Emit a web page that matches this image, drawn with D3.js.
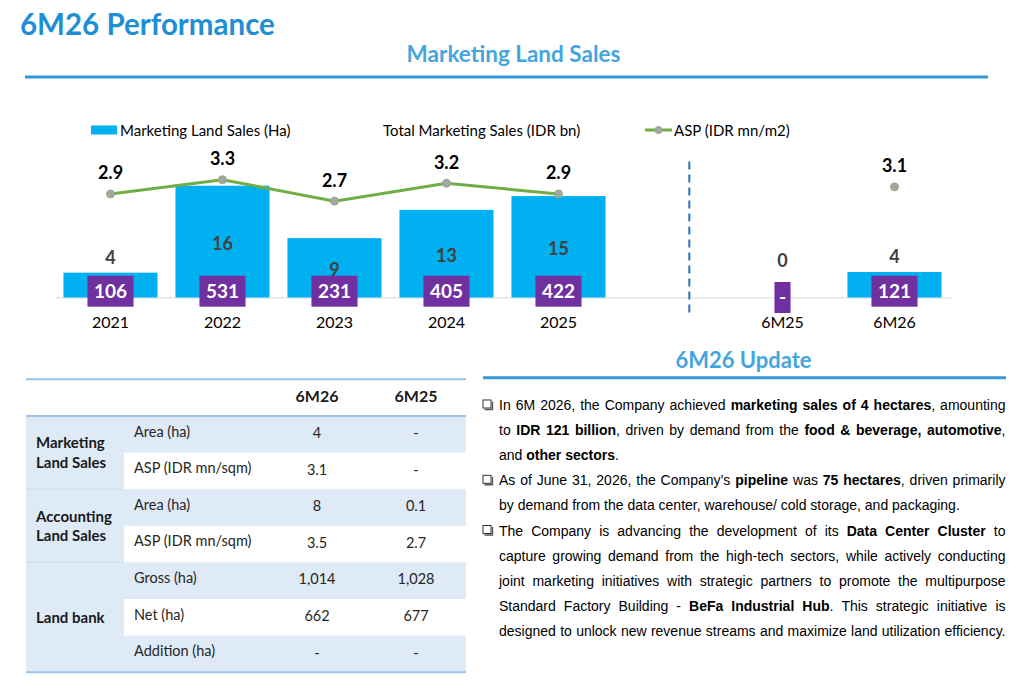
<!DOCTYPE html>
<html><head><meta charset="utf-8">
<script src="https://cdn.jsdelivr.net/npm/d3@7"></script>
<style>body{margin:0;background:#fff}svg{display:block}</style>
</head><body>
<svg id="c" width="1029" height="683"></svg>
<script>
// ---------- DATA ----------
const categories = ["2021","2022","2023","2024","2025","","6M25","6M26"];
const landSalesHa = [3.6,16.2,8.6,12.7,14.7,null,0,3.7];
const totalSalesIDRbn = [106,531,231,405,422,null,0,121];
const aspIDRmnM2 = [2.9,3.3,2.7,3.2,2.9,null,null,3.1];
const legendLabels = ["Marketing Land Sales (Ha)","Total Marketing Sales (IDR bn)","ASP (IDR mn/m2)"];
const tableColumns = ["6M26","6M25"];
const tableGroupNames = [["Marketing","Land Sales"],["Accounting","Land Sales"],["Land bank"]];
const tableRowLabels = [["Area (ha)","ASP (IDR mn/sqm)"],["Area (ha)","ASP (IDR mn/sqm)"],["Gross (ha)","Net (ha)","Addition (ha)"]];
const tableValues6M26 = [["4","3.1"],["8","3.5"],["1,014","662","-"]];
const tableValues6M25 = [["-","-"],["0.1","2.7"],["1,028","677","-"]];
const updateLines = [
  {bullet:true, justify:true, runs:[["In 6M 2026, the Company achieved ",0],["marketing sales of 4 hectares",1],[", amounting",0]]},
  {bullet:false, justify:true, runs:[["to ",0],["IDR 121 billion",1],[", driven by demand from the ",0],["food & beverage, automotive",1],[",",0]]},
  {bullet:false, justify:false, runs:[["and ",0],["other sectors",1],[".",0]]},
  {bullet:true, justify:true, runs:[["As of June 31, 2026, the Company\u2019s ",0],["pipeline",1],[" was ",0],["75 hectares",1],[",  driven primarily",0]]},
  {bullet:false, justify:false, runs:[["by demand from the data center, warehouse/ cold storage, and packaging.",0]]},
  {bullet:true, justify:true, runs:[["The Company is advancing the development of its ",0],["Data Center Cluster",1],[" to",0]]},
  {bullet:false, justify:true, runs:[["capture growing demand from the high-tech sectors, while  actively conducting",0]]},
  {bullet:false, justify:true, runs:[["joint marketing initiatives with strategic partners to promote the multipurpose",0]]},
  {bullet:false, justify:true, runs:[["Standard Factory Building - ",0],["BeFa Industrial Hub",1],[". This strategic initiative is",0]]},
  {bullet:false, justify:true, runs:[["designed to unlock new revenue streams and maximize land utilization efficiency.",0]]}
];

// ---------- STYLE ----------
const F = "Lato, 'Open Sans', sans-serif";
const FA = "'Liberation Sans', Arial, sans-serif";
const BLUE_T = "#1e8fd5", BLUE_S = "#45a5df", BLUE_RULE = "#3598da";
const BAR = "#00b0f0", PURPLE = "#7030a0", GREEN = "#70ad47";

const svg = d3.select("#c");
svg.append("rect").attr("width",1029).attr("height",683).attr("fill","#fff");

// Titles
svg.append("text").attr("x",20).attr("y",35).text("6M26 Performance")
  .attr("font-family",F).attr("font-size",29.5).attr("font-weight",700).attr("fill",BLUE_T);
svg.append("text").attr("x",513.5).attr("y",62).attr("text-anchor","middle").text("Marketing Land Sales")
  .attr("font-family",F).attr("font-size",22.5).attr("font-weight",700).attr("fill",BLUE_S);
svg.append("line").attr("x1",25).attr("x2",988).attr("y1",77).attr("y2",77).attr("stroke",BLUE_RULE).attr("stroke-width",3);

// Legend
const lg = svg.append("g").attr("font-family",F).attr("font-size",15).attr("fill","#000");
lg.append("rect").attr("x",91).attr("y",125.5).attr("width",26).attr("height",9).attr("fill",BAR);
lg.append("text").attr("x",120).attr("y",135.5).text(legendLabels[0]);
lg.append("text").attr("x",383).attr("y",135.5).text(legendLabels[1]);
lg.append("line").attr("x1",645).attr("x2",672).attr("y1",130).attr("y2",130).attr("stroke",GREEN).attr("stroke-width",3);
lg.append("circle").attr("cx",658.5).attr("cy",130).attr("r",3.5).attr("fill","#a5a5a5").attr("stroke","#8fb07a");
lg.append("text").attr("x",674).attr("y",135.5).text(legendLabels[2]);

// Chart
const y0 = 297.5;
const x = d3.scaleBand().domain(categories).range([54.5,950.5]).paddingInner(0.16).paddingOuter(0.08);
const yBar = d3.scaleLinear().domain([0,20]).range([y0, y0-138]);
const yAsp = d3.scaleLinear().domain([0,4]).range([y0, y0-142.8]);
const cx = c => x(c) + x.bandwidth()/2;
const data = categories.map((c,i)=>({c, ha:landSalesHa[i], tot:totalSalesIDRbn[i], asp:aspIDRmnM2[i]}));

const ax = svg.append("g").attr("transform",`translate(0,${y0})`)
  .call(d3.axisBottom(x).tickSize(0).tickPadding(19));
ax.select(".domain").attr("stroke","#d9d9d9").attr("stroke-width",1);
ax.selectAll("text").attr("font-family",F).attr("font-size",16).attr("fill","#000");

// bars
svg.append("g").selectAll("rect").data(data.filter(d=>d.ha!=null && d.ha>0)).join("rect")
  .attr("x",d=>x(d.c)).attr("width",x.bandwidth())
  .attr("y",d=>yBar(d.ha)).attr("height",d=>yBar(0)-yBar(d.ha)).attr("fill",BAR);

// dashed separator
const sepX = x("") + x.bandwidth()*0.7;
svg.append("line").attr("x1",sepX).attr("x2",sepX).attr("y1",161.5).attr("y2",316)
  .attr("stroke","#2e75b6").attr("stroke-width",2).attr("stroke-dasharray","8,5");

// bar value labels
const fmt0 = d3.format(".0f");
svg.append("g").selectAll("text").data(data.filter(d=>d.ha!=null)).join("text")
  .attr("x",d=>cx(d.c))
  .attr("y",d=>{
    const top = yBar(d.ha);
    const mid = d.ha>=5 ? (top+y0)/2+2 : Math.min(top-15, y0-37);
    return mid + 6.5;
  })
  .attr("text-anchor","middle").attr("font-family",F).attr("font-size",18).attr("font-weight",700)
  .attr("fill","#404040").text(d=>fmt0(d.ha));

// ASP line
const line = d3.line().defined(d=>d.asp!=null).x(d=>cx(d.c)).y(d=>yAsp(d.asp));
svg.append("path").datum(data).attr("d",line).attr("fill","none").attr("stroke",GREEN).attr("stroke-width",3);
const aspPts = data.filter(d=>d.asp!=null);
svg.append("g").selectAll("circle").data(aspPts).join("circle")
  .attr("cx",d=>cx(d.c)).attr("cy",d=>yAsp(d.asp)).attr("r",4)
  .attr("fill","#a5a5a5").attr("stroke","#8fb07a").attr("stroke-width",1);
svg.append("g").selectAll("text").data(aspPts).join("text")
  .attr("x",d=>cx(d.c)).attr("y",d=>yAsp(d.asp)-14.5)
  .attr("text-anchor","middle").attr("font-family",F).attr("font-size",18).attr("font-weight",700)
  .attr("fill","#000").text(d=>d3.format(".1f")(d.asp));

// Total sales boxes
const tg = svg.append("g");
data.filter(d=>d.tot!=null).forEach(d=>{
  const g = tg.append("g");
  const cyb = d.tot===0 ? y0 : y0-6.3;
  const t = g.append("text").attr("x",cx(d.c)).attr("y",cyb+6.5).attr("text-anchor","middle")
    .attr("font-family",F).attr("font-size",19).attr("font-weight",700).attr("fill","#fff")
    .text(d.tot===0 ? "-" : d3.format(",")(d.tot));
  const w = t.node().getComputedTextLength() + (d.tot===0 ? 9 : 13);
  g.insert("rect","text").attr("x",cx(d.c)-w/2).attr("y",cyb-15.5).attr("width",w).attr("height",31).attr("fill",PURPLE);
});

// 6M26 Update heading
svg.append("text").attr("x",743.5).attr("y",367.5).attr("text-anchor","middle").text("6M26 Update")
  .attr("font-family",F).attr("font-size",22).attr("font-weight",700).attr("fill",BLUE_S);
svg.append("line").attr("x1",483).attr("x2",1006).attr("y1",377.7).attr("y2",377.7).attr("stroke",BLUE_RULE).attr("stroke-width",3);

// ---------- TABLE ----------
const T = svg.append("g").attr("font-family",F);
const tX0 = 26, tX1 = 466, col1 = 124, rowH = 36.6, tTop = 416;
const colX = [317, 416];
const SHADE = "#deeaf6", TLINE = "#9dc3e6";
let r = 0;
const groupSpans = [];
tableGroupNames.forEach((gn,gi)=>{
  const start = r;
  tableRowLabels[gi].forEach((lab,ri)=>{
    const yTop = tTop + r*rowH;
    if (r%2===0) T.append("rect").attr("x",tX0).attr("y",yTop).attr("width",tX1-tX0).attr("height",rowH).attr("fill",SHADE);
    T.append("text").attr("x",134).attr("y",yTop+20.5).text(lab).attr("font-size",14.5).attr("fill","#262626");
    T.append("text").attr("x",colX[0]).attr("y",yTop+22).attr("text-anchor","middle").text(tableValues6M26[gi][ri]).attr("font-size",14.5).attr("fill","#262626");
    T.append("text").attr("x",colX[1]).attr("y",yTop+22).attr("text-anchor","middle").text(tableValues6M25[gi][ri]).attr("font-size",14.5).attr("fill","#262626");
    r++;
  });
  groupSpans.push([start, r]);
});
// first column shading & group labels
groupSpans.forEach(([a,b],gi)=>{
  const yA = tTop + a*rowH, yB = tTop + b*rowH;
  T.insert("rect",":first-child").attr("x",tX0).attr("y",yA).attr("width",col1-tX0).attr("height",yB-yA).attr("fill",SHADE);
  const names = tableGroupNames[gi];
  const mid = (yA+yB)/2;
  names.forEach((n,k)=>{
    T.append("text").attr("x",36).attr("y",mid + (k-(names.length-1)/2)*19.5 + 5.5).text(n)
      .attr("font-size",15).attr("font-weight",700).attr("fill","#1a1a1a");
  });
  if (gi>0) T.append("line").attr("x1",tX0).attr("x2",col1).attr("y1",yA).attr("y2",yA).attr("stroke","#c9dcf0").attr("stroke-width",1);
});
// header
tableColumns.forEach((c,i)=>{
  T.append("text").attr("x",colX[i]).attr("y",402).attr("text-anchor","middle").text(c)
    .attr("font-size",16).attr("font-weight",700).attr("fill","#1a1a1a");
});
[379.3, tTop, tTop + r*rowH].forEach(yy=>{
  T.append("line").attr("x1",tX0).attr("x2",tX1).attr("y1",yy).attr("y2",yy).attr("stroke",TLINE).attr("stroke-width",2);
});

// ---------- UPDATE TEXT ----------
const P = svg.append("g").attr("font-family",FA).attr("font-size",14).attr("fill","#000");
const pX0 = 499, pX1 = 1005.5;
const measure = (txt,bold)=>{
  const t = P.append("text").attr("font-weight",bold?700:400).attr("xml:space","preserve").text(txt);
  const w = t.node().getComputedTextLength(); t.remove(); return w;
};
const spaceW = measure("a a",0) - measure("aa",0);
updateLines.forEach((ln,i)=>{
  const yb = 410 + i*25.1;
  const words = []; let cur = null;
  ln.runs.forEach(([txt,b])=>{
    const parts = txt.split(/(\s+)/);
    parts.forEach(p=>{
      if (p==="") return;
      if (/^\s+$/.test(p)) { cur = null; return; }
      if (!cur) { cur = []; words.push(cur); }
      cur.push({t:p,b});
    });
  });
  words.forEach(w=>{ w.forEach(s=>s.w = measure(s.t,s.b)); w.w = d3.sum(w,s=>s.w); });
  const total = d3.sum(words,w=>w.w);
  let gap = ln.justify && words.length>1 ? (pX1-pX0-total)/(words.length-1) : spaceW;
  let xx = pX0;
  words.forEach(w=>{
    w.forEach(s=>{
      P.append("text").attr("x",xx).attr("y",yb).attr("font-weight",s.b?700:400).text(s.t);
      xx += s.w;
    });
    xx += gap;
  });
  if (ln.bullet) {
    const by = yb - 10;
    P.append("rect").attr("x",483).attr("y",by).attr("width",8).attr("height",8)
      .attr("fill","#fff").attr("stroke","#333").attr("stroke-width",1);
    P.append("path").attr("d",`M${484.5} ${by+9.5} H${492.5} V${by+1.5}`).attr("fill","none").attr("stroke","#555").attr("stroke-width",1.4);
  }
});
</script>
</body></html>
